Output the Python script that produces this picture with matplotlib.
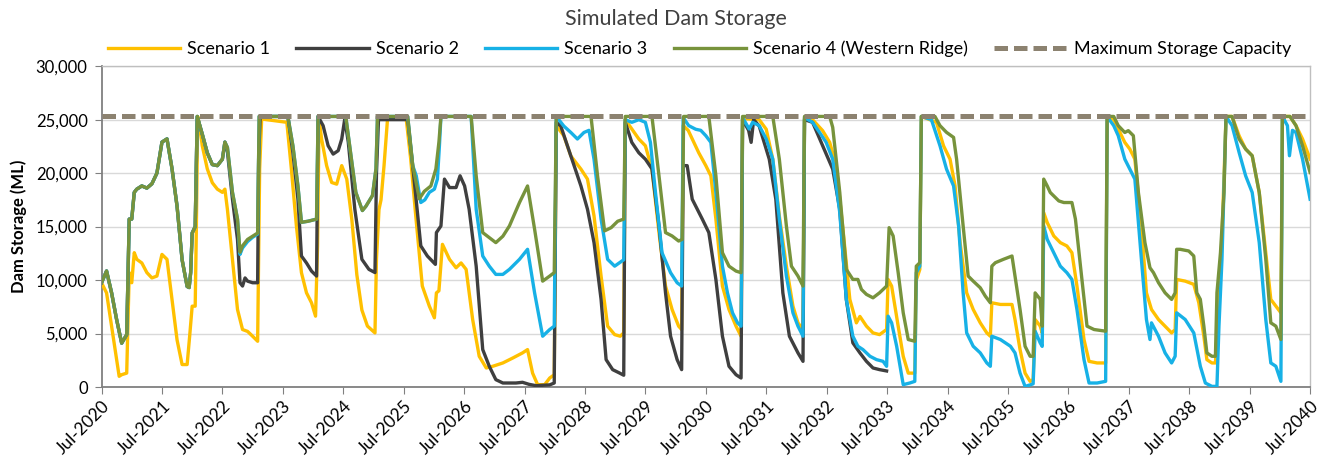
import matplotlib
matplotlib.use("Agg")
import matplotlib.pyplot as plt
from matplotlib.ticker import FuncFormatter, MultipleLocator

# ---------------- data (months since Jul-2020, storage in ML) ----------------
years = list(range(2020, 2041))
tick_labels = [f"Jul-{y}" for y in years]
max_capacity = 25300

s1_t = [0, 1, 2, 3, 3.5, 4, 5, 5.5, 6, 6.5, 7, 8, 9, 10, 11, 12, 13, 14, 15, 16, 17, 17.5, 18, 18.6, 18.8, 19.1,
        19.5, 20, 21, 22, 23, 24, 24.5, 25, 26, 27, 28, 29, 30, 31, 31.4, 31.8, 36.8, 37.7, 38.7, 39.7, 40.7, 41.7,
        42.5, 42.9, 43.2, 43.7, 44.7, 45.7, 46.7, 47.7, 48.7, 49.7, 50.7, 51.7, 52.8, 54.3, 54.6, 55.1, 55.5, 56.1,
        56.8, 60.5, 61.4, 62.4, 63.7, 65.1, 66.1, 66.5, 67, 67.7, 69.1, 70.4, 71.4, 72.4, 73.7, 75, 76.4, 77.7, 79.7,
        81.7, 83.6, 84.6, 85.6, 86.6, 88, 89, 89.9, 90.3, 91.8, 93.2, 95.2, 96.5, 97.8, 99.2, 100.5, 101.9, 103,
        103.7, 104, 105.3, 106.7, 108, 109.3, 110.7, 112, 113.3, 114.6, 115.2, 115.5, 116.5, 118.6, 120, 121, 122,
        123.3, 124.6, 126, 127, 127.3, 130.6, 132, 133.3, 134.6, 136, 137.3, 138.3, 139.3, 139.6, 141.2, 143.2,
        144.6, 145.9, 147.3, 148.6, 149.9, 150.6, 151.9, 153.2, 154.5, 155.9, 156.2, 156.9, 158.2, 159.2, 160.2,
        161.5, 161.8, 162.5, 162.8, 165.8, 167.2, 168.5, 169.5, 170.5, 171.8, 173.1, 174.5, 175.8, 176.5, 176.8,
        178.5, 180.8, 181.4, 182.4, 183.4, 184.4, 185, 185.4, 186.4, 186.8, 187.1, 187.8, 189.1, 190.4, 191.7,
        192.7, 193.7, 195.1, 196.1, 197.7, 199.4, 199.7, 201, 201.9, 203.2, 204.2, 205.2, 206.5, 207.5, 208.5,
        209.9, 211.2, 212.5, 213.2, 213.5, 215.2, 216.9, 217.9, 218.9, 219.5, 220.5, 221.2, 221.9, 222.5, 223.3,
        224.5, 225.9, 227.2, 228.5, 229.9, 231.2, 232.2, 233.2, 234.2, 234.5, 236, 237.2, 238.5, 240]
s1_v = [9750, 8800, 5700, 2560, 1000, 1150, 1300, 10700, 9750, 12560, 11940, 11600, 10700, 10200, 10375, 12400, 11940,
        8200, 4400, 2100, 2100, 4750, 7560, 7560, 13800, 25300, 24400, 22560, 20400, 19100, 18500, 18200, 18500,
        16600, 11940, 7250, 5375, 5200, 4750, 4280, 20400, 25060, 24750, 20375, 15060, 10690, 8810, 7875, 6625,
        13190, 25060, 23190, 20700, 19125, 18970, 20700, 19440, 15690, 10500, 7200, 5700, 5060, 12000, 16600, 17500,
        20700, 25100, 25100, 21300, 16000, 9440, 7560, 6470, 8800, 9000, 13340, 11940, 11150, 11600, 11000, 6310,
        2875, 1780, 1940, 2250, 2720, 3190, 3500, 1300, 220, 220, 840, 1150, 24440, 23500, 21600, 20375, 19440,
        16000, 10375, 5690, 4900, 4750, 5060, 25000, 24125, 23190, 22560, 20375, 14440, 9440, 7250, 5690, 5375,
        24440, 24000, 21900, 20700, 19750, 15700, 9440, 7250, 5690, 4750, 25100, 25000, 24100, 21300, 16000, 11300,
        7560, 6000, 5375, 25100, 25000, 23970, 22875, 20700, 14440, 8190, 6000, 6600, 5690, 5060, 4900, 5375, 10060,
        9440, 5690, 2875, 1300, 1300, 10000, 11000, 25300, 24750, 22560, 21300, 18800, 13500, 8810, 7250, 6000,
        5060, 4750, 7875, 7720, 7720, 6310, 3500, 1300, 530, 700, 6310, 5700, 5060, 16300, 15375, 14125, 13500,
        13190, 12560, 9440, 4440, 2400, 2250, 2250, 25300, 25000, 24125, 22875, 22250, 21310, 15060, 8810, 7250,
        6310, 5690, 5060, 5375, 10060, 9900, 9600, 7875, 4750, 2560, 2250, 2250, 8000, 14000, 25300, 25300, 23500,
        22250, 21625, 18190, 12500, 8190, 7560, 6940, 25300, 25300, 24440, 23190, 21310]

s2_t = [0, 1, 2, 3, 4, 5, 5.5, 6, 6.5, 7, 8, 9, 10, 11, 12, 13, 14, 15, 16, 17, 17.4, 17.7, 18, 18.6, 19, 20, 21,
        22, 23, 24, 24.5, 25, 26, 27, 27.5, 28, 28.5, 29, 30, 31, 31.2, 31.5, 37, 38, 39, 39.7, 40.7, 41.7, 42.7,
        43, 44, 45, 46, 47, 47.7, 48.3, 49, 50.3, 51.7, 53.1, 54.3, 54.6, 55, 60.8, 62, 63.4, 64.7, 66.3, 66.5,
        67.4, 68.1, 69.1, 70.4, 71.2, 72.1, 73, 74.4, 75.7, 77, 78.3, 79.7, 82.3, 83.6, 84.9, 86.3, 89, 89.9, 90.3,
        91.2, 93.2, 95.2, 96.5, 97.8, 99.2, 100.2, 101.5, 102.9, 103.7, 104, 105.3, 106.7, 108, 109.3, 110.7, 112,
        113, 114.3, 115.2, 115.5, 116.3, 117.3, 119.3, 120.6, 122, 123.3, 124.6, 126, 127, 127.3, 128.5, 129,
        129.5, 130.6, 132.6, 133.9, 135.3, 136.6, 138.3, 139.3, 139.6, 141.2, 143.2, 145.2, 146.6, 147.9, 149.2,
        150.6, 151.9, 153.2, 154.5, 155.9]
s2_v = [9750, 10850, 8800, 6300, 4100, 4900, 15700, 15700, 18200, 18500, 18800, 18600, 19000, 20000, 22900, 23200,
        20400, 16900, 11900, 9400, 9300, 10700, 14400, 15000, 25300, 23650, 21900, 20800, 20700, 21300, 22900,
        22000, 17560, 13800, 9750, 9440, 10200, 9900, 9750, 9750, 21300, 25300, 25300, 21940, 17560, 12250, 11600,
        10840, 10375, 25300, 24440, 22560, 21780, 22100, 23190, 25060, 22900, 16625, 11940, 11000, 10700, 20000,
        25000, 25000, 19750, 13200, 12250, 11470, 14440, 15060, 19440, 18650, 18650, 19750, 18800, 16625, 11300,
        3500, 1940, 690, 375, 375, 440, 250, 125, 200, 375, 24750, 24400, 21600, 18800, 16625, 13500, 8190, 2560,
        1625, 1300, 1100, 24750, 22875, 21900, 21300, 20400, 15060, 8800, 4750, 2560, 1625, 20700, 20700, 17560,
        15700, 14440, 10060, 4750, 1940, 1150, 840, 25000, 24000, 22875, 25000, 24400, 21300, 17560, 8800, 4750,
        3190, 2400, 25000, 24750, 22560, 20375, 16625, 8190, 4125, 3190, 2400, 1780, 1625, 1500]

s3_t = [0, 1, 2, 3, 4, 5, 5.5, 6, 6.5, 7, 8, 9, 10, 11, 12, 13, 14, 15, 16, 17, 17.4, 17.7, 18, 18.6, 19, 20, 21,
        22, 23, 24, 24.5, 25, 26, 27, 27.5, 28, 29, 30, 31, 31.3, 37, 38, 39, 39.7, 41, 42.7, 43, 48.5, 50.5, 51.8,
        52.5, 53.8, 54.5, 54.8, 60.8, 61.8, 62.5, 63.4, 64.2, 65.1, 66.1, 66.7, 67.1, 67.4, 73.4, 74.4, 75.7, 77,
        78.3, 79.7, 81, 83, 84.6, 86, 87.6, 89, 89.9, 90.3, 91.8, 93.2, 94.5, 95.8, 96.8, 97.8, 99.2, 100.5, 101.9,
        103.7, 104, 105.3, 106.7, 108, 109, 110, 111.3, 113, 114.3, 115.2, 115.5, 116.6, 118, 119, 120, 121, 122,
        123.3, 124.3, 125.3, 126.3, 127, 127.3, 128.6, 129.3, 130.6, 132, 133.3, 134.6, 136, 137.3, 138.3, 139.3,
        139.6, 141.2, 142.6, 143.9, 145.2, 146.6, 147.9, 149.2, 150.2, 151.2, 152.6, 153.9, 155.2, 155.9, 156.2,
        156.9, 157.9, 159.2, 160.5, 161.5, 161.8, 162.5, 162.8, 164.8, 166.5, 167.8, 169.2, 170.2, 171.1, 171.8,
        173.1, 174.5, 175.8, 176.5, 176.8, 178.5, 180.5, 181.4, 182.4, 183.4, 184.4, 185, 185.4, 186.4, 186.8,
        187.1, 187.8, 189.1, 190.4, 191.7, 192.7, 193.7, 195.1, 196.1, 197.7, 199.4, 199.7, 201, 201.9, 203.2,
        204.2, 205.2, 206.5, 207.5, 208.2, 208.5, 209.9, 211.2, 212.5, 213.2, 213.5, 215.2, 216.9, 218.2, 219.2,
        220.5, 221.5, 221.9, 222.5, 223.3, 224.5, 225.9, 227.2, 228.5, 229.9, 231.2, 232.2, 233.2, 234.2, 234.5,
        235.5, 235.9, 236.5, 237.2, 238.5, 240]
s3_v = [9750, 10850, 8800, 6300, 4100, 4900, 15700, 15700, 18200, 18500, 18800, 18600, 19000, 20000, 22900, 23200,
        20400, 16900, 11900, 9400, 9300, 10700, 14400, 15000, 25300, 23650, 21900, 20800, 20700, 21300, 22900,
        22400, 18200, 15700, 12400, 13000, 13600, 14000, 14300, 25300, 25300, 22560, 18800, 15400, 15500, 15700,
        25300, 25300, 18200, 16500, 16900, 17900, 20400, 25300, 25300, 20700, 19750, 17250, 17500, 18200, 18500,
        19440, 22560, 25300, 25300, 16600, 12250, 11300, 10530, 10530, 11000, 11940, 12875, 8800, 4750, 5375, 5690,
        25300, 24400, 23800, 23190, 23800, 24000, 21300, 15700, 11940, 11300, 11900, 25000, 24750, 25000, 24750,
        22875, 18200, 12560, 10690, 9750, 9440, 25200, 24440, 24100, 24000, 23500, 22875, 18200, 11300, 8800, 6940,
        6000, 5690, 25200, 24125, 24750, 24440, 23190, 21300, 15700, 10375, 6940, 5690, 4750, 25200, 24750, 23800,
        22875, 21300, 16300, 8190, 4750, 3810, 3500, 2875, 2560, 2400, 1940, 6625, 6000, 3810, 220, 375, 530, 10690,
        11300, 25300, 25000, 22560, 20375, 18800, 15060, 8810, 5060, 3810, 3190, 2250, 1940, 4750, 4440, 3810, 3190,
        1300, 60, 200, 300, 5220, 4125, 3800, 15060, 13800, 12560, 11300, 10690, 10060, 7250, 2560, 375, 375, 530,
        25300, 24440, 23500, 21310, 20375, 19440, 11940, 6310, 4440, 6000, 4750, 3190, 2250, 2875, 6940, 6310, 5060,
        1940, 375, 60, 60, 5690, 11940, 25300, 24440, 21940, 19750, 18190, 13500, 6310, 2250, 1940, 530, 25300,
        24440, 21625, 24000, 23800, 21310, 17560]

s4_t = [0, 1, 2, 3, 4, 5, 5.5, 6, 6.5, 7, 8, 9, 10, 11, 12, 13, 14, 15, 16, 17, 17.4, 17.7, 18, 18.6, 19, 20, 21,
        22, 23, 24, 24.5, 25, 26, 27, 27.5, 28, 29, 30, 31, 31.3, 37, 38, 39, 39.7, 41, 42.7, 43, 48.5, 50.5, 51.8,
        52.5, 53.8, 54.5, 54.8, 60.8, 61.8, 63.1, 64.1, 65.4, 66.4, 67, 67.4, 73.4, 74.4, 75.7, 77, 78.3, 79.7, 81,
        83, 84.6, 86, 87.6, 89, 89.9, 90.3, 97.2, 98.5, 99.9, 101.2, 102.5, 103.7, 104, 109.3, 110.7, 112, 113.3,
        114.6, 115.3, 115.6, 120.6, 122, 123.3, 124.6, 126, 127, 127.3, 133.3, 134.6, 136, 137, 138.3, 139.3, 139.6,
        144.6, 145.2, 146.6, 147.9, 149.2, 150.2, 150.9, 151.9, 153.2, 154.5, 155.9, 156.4, 157.2, 158.2, 159.2,
        160.2, 161.5, 161.8, 162.5, 162.8, 165.5, 166.5, 167.8, 169.2, 169.8, 171.1, 172.1, 173.1, 174.5, 175.5,
        176.5, 176.8, 177.5, 179.1, 180.8, 181.4, 182.4, 183.4, 184.4, 185, 185.4, 186.4, 186.8, 187.1, 187.8,
        188.4, 189.1, 190.1, 191.1, 192.7, 193.4, 194.4, 195.7, 197.1, 199.4, 199.7, 201, 201.9, 203.2, 203.9,
        204.9, 205.9, 207.2, 208.2, 208.9, 209.9, 211.2, 212.5, 213.2, 213.5, 214.2, 215.9, 216.9, 217.5, 218.2,
        218.9, 219.5, 220.5, 221.2, 221.5, 222.2, 222.9, 223.3, 224.5, 225.9, 227.2, 228.5, 229.9, 231.2, 232.2,
        233.2, 234.2, 234.5, 236, 237.2, 238.5, 240]
s4_v = [9750, 10850, 8800, 6300, 4100, 4900, 15700, 15700, 18200, 18500, 18800, 18600, 19000, 20000, 22900, 23200,
        20400, 16900, 11900, 9400, 9300, 10700, 14400, 15000, 25300, 23650, 21900, 20800, 20700, 21300, 22900,
        22400, 18200, 15700, 12600, 13200, 13800, 14100, 14400, 25300, 25300, 22560, 18800, 15400, 15500, 15700,
        25300, 25300, 18200, 16500, 16900, 17900, 20400, 25300, 25300, 20700, 17600, 18300, 18800, 20400, 22900,
        25300, 25300, 19750, 14440, 13970, 13500, 14100, 15060, 17250, 18800, 14750, 9900, 10375, 10700, 25300,
        25300, 19750, 14600, 14900, 15500, 15700, 25300, 25300, 19750, 14440, 14125, 13650, 13800, 25300, 25300,
        19750, 12560, 11300, 10840, 10690, 25300, 25300, 21300, 15060, 11300, 10375, 9440, 25300, 25300, 24280,
        18200, 11000, 10060, 10060, 9125, 8660, 8340, 8810, 9440, 14900, 14125, 10690, 6940, 4440, 4280, 11300,
        11625, 25300, 25300, 24440, 23810, 23340, 21300, 15060, 10375, 9900, 9280, 8500, 7875, 11300, 11625, 11940,
        12250, 10375, 7250, 3810, 2875, 2875, 8800, 8200, 5690, 19440, 18800, 18190, 17870, 17400, 17250, 17250,
        15700, 11300, 5690, 5375, 5220, 25300, 25300, 24440, 23800, 23970, 23500, 18190, 13500, 11150, 10690, 9750,
        8810, 8190, 8810, 12875, 12875, 12720, 12250, 8810, 8200, 5690, 3190, 2875, 2875, 8810, 12560, 18190,
        25300, 25300, 23190, 22250, 21625, 18190, 11940, 6000, 5690, 4440, 25300, 25300, 24440, 22560, 20060]

names = ["Scenario 1", "Scenario 2", "Scenario 3", "Scenario 4 (Western Ridge)"]
colors = ["#FFC000", "#3F3F3F", "#17B1E6", "#77933C"]
cap_color = "#8C8270"

plt.rcParams["font.family"] = ["Lato", "DejaVu Sans"]

fig = plt.figure(figsize=(13.22, 4.66), dpi=100)
ax = fig.add_axes([0.0768, 0.1695, 0.9142, 0.6885])

series = [(s1_t, s1_v), (s2_t, s2_v), (s3_t, s3_v), (s4_t, s4_v)]
handles = []
for (t, v), c, n in zip(series, colors, names):
    h, = ax.plot(t, v, color=c, lw=2.4, label=n, solid_joinstyle="round", zorder=3)
    handles.append(h)
hc = ax.axhline(max_capacity, color=cap_color, lw=3.6, linestyle=(0, (2.7, 1.2)),
                dash_capstyle="butt", zorder=4, label="Maximum Storage Capacity")
handles.append(hc)

ax.set_xlim(0, 240)
ax.set_ylim(0, 30000)
ax.set_xticks([12 * i for i in range(len(years))])
ax.set_xticklabels(tick_labels, rotation=45, ha="right", rotation_mode="anchor", fontsize=12.5)
ax.yaxis.set_major_locator(MultipleLocator(5000))
ax.yaxis.set_major_formatter(FuncFormatter(lambda v, p: f"{int(v):,}"))
ax.tick_params(axis="y", labelsize=12, length=5, color="#808080", pad=5)
ax.tick_params(axis="x", length=5, color="#808080", pad=3)
ax.grid(axis="y", color="#D9D9D9", lw=1.0, zorder=0)
for s in ["top", "right"]:
    ax.spines[s].set_color("#BFBFBF")
    ax.spines[s].set_linewidth(1.0)
for s in ["left", "bottom"]:
    ax.spines[s].set_color("#808080")
    ax.spines[s].set_linewidth(1.3)
ax.set_ylabel("Dam Storage (ML)", fontsize=12, fontweight="bold", labelpad=6)

fig.text(0.511, 0.96, "Simulated Dam Storage", ha="center", va="center", fontsize=15.5, color="#404040")
fig.legend(handles=handles, loc="center", bbox_to_anchor=(0.529, 0.895), ncol=5, frameon=False,
           fontsize=13, handlelength=4.0, handletextpad=0.4, columnspacing=1.45)

fig.savefig("out.png", dpi=100)
